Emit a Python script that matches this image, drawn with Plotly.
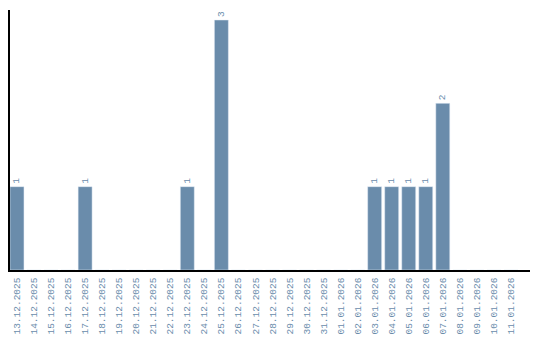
import plotly.graph_objects as go

dates = ["13.12.2025", "14.12.2025", "15.12.2025", "16.12.2025", "17.12.2025",
         "18.12.2025", "19.12.2025", "20.12.2025", "21.12.2025", "22.12.2025",
         "23.12.2025", "24.12.2025", "25.12.2025", "26.12.2025", "27.12.2025",
         "28.12.2025", "29.12.2025", "30.12.2025", "31.12.2025", "01.01.2026",
         "02.01.2026", "03.01.2026", "04.01.2026", "05.01.2026", "06.01.2026",
         "07.01.2026", "08.01.2026", "09.01.2026", "10.01.2026", "11.01.2026"]
counts = [1, 0, 0, 0, 1, 0, 0, 0, 0, 0,
          1, 0, 3, 0, 0, 0, 0, 0, 0, 0,
          0, 1, 1, 1, 1, 2, 0, 0, 0, 0]

color = "#6a8cab"
font = dict(family="Liberation Mono", size=9.5, color=color)

idx = list(range(len(dates)))
labels = [str(v) if v else "" for v in counts]

fig = go.Figure(go.Bar(
    x=idx, y=counts, marker_color=color, width=0.82,
    text=labels, textposition="outside", textangle=-90,
    textfont=font, cliponaxis=False, hoverinfo="skip",
))
fig.update_layout(
    width=540, height=340, margin=dict(l=10, r=10, t=10, b=70),
    paper_bgcolor="white", plot_bgcolor="white", showlegend=False,
    uniformtext=dict(minsize=9, mode="show"),
)
fig.update_xaxes(range=[-0.41, 30.12], tickmode="array", tickvals=idx, ticktext=dates,
                 tickangle=-90, tickfont=font, showline=True, linecolor="black",
                 linewidth=1.5, showgrid=False, zeroline=False, ticks="outside",
                 ticklen=2, tickcolor="rgba(0,0,0,0)", automargin=False)
fig.update_yaxes(range=[0, 3.12], showline=True, linecolor="black", linewidth=1.5,
                 showgrid=False, zeroline=False, showticklabels=False, ticks="",
                 automargin=False)
fig.write_html("out.html")
